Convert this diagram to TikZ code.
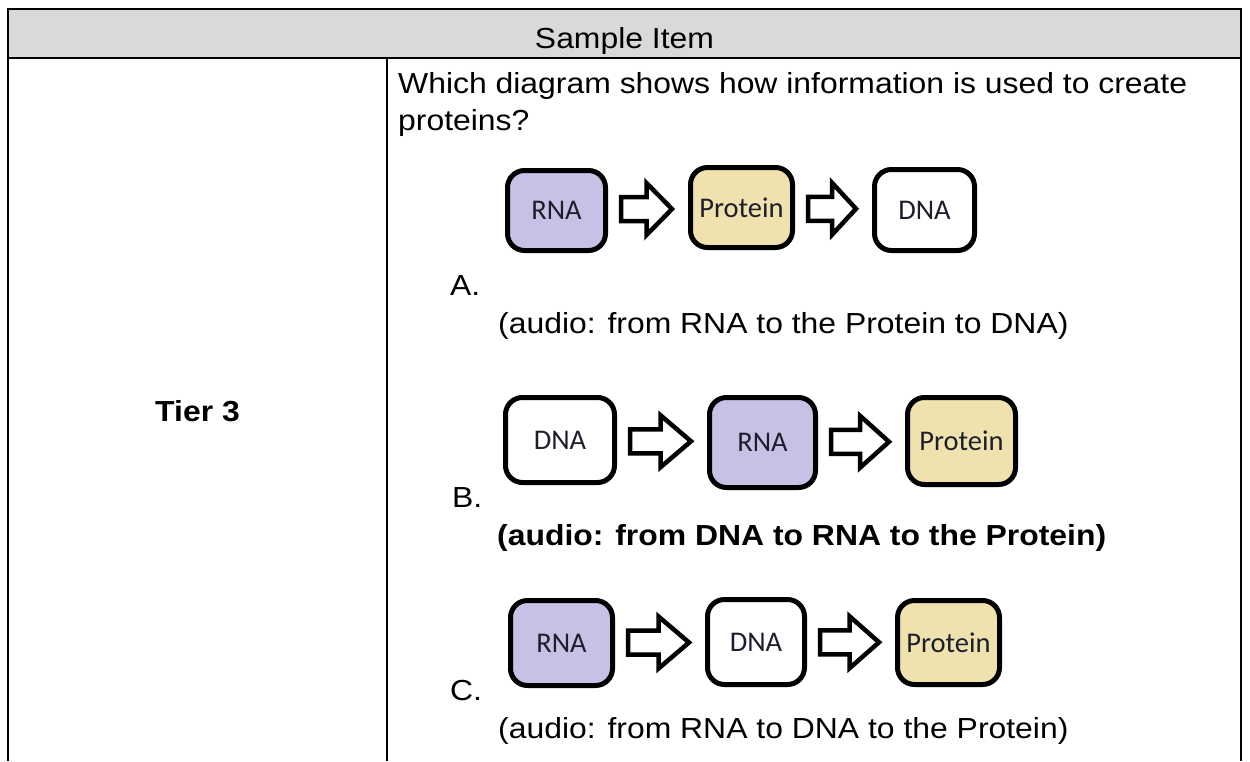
\documentclass[tikz,border=0pt]{standalone}
\usepackage{fontspec}
\setmainfont{Liberation Sans}[FakeStretch=1.1]
\newfontfamily\labelfont{Carlito}
\usetikzlibrary{calc}

\definecolor{headgray}{HTML}{D9D9D9}
\definecolor{rnafill}{HTML}{C8C0E5}
\definecolor{protfill}{HTML}{EFE2AE}
\definecolor{labelink}{HTML}{1E1E2A}

\tikzset{
  rule/.style={line width=2pt, draw=black},
  body/.style={font=\fontsize{29}{32}\selectfont, anchor=base west, inner sep=0pt},
  bodybold/.style={body, font=\fontsize{29}{32}\selectfont\bfseries},
  stepbox/.style={draw=black, line width=5pt, rounded corners=17pt,
    font=\labelfont\fontsize{28.5}{31}\selectfont, text=labelink, inner sep=0pt},
  rna/.style={stepbox, fill=rnafill},
  prot/.style={stepbox, fill=protfill},
  dna/.style={stepbox, fill=white},
  flow/.style={draw=black, fill=white, line width=4.5pt, line join=miter}
}

% hollow block arrow between two named boxes
\newcommand\flowarrow[2]{%
  \draw[flow] let \p1=(#1.east), \p2=(#2.west),
      \n1={\x1+13pt}, \n2={\x2-16pt}, \n3={(\y1+\y2)/2},
      \n4={\n1+0.5*(\n2-\n1)} in
    (\n1,\n3+12pt) -- (\n4,\n3+12pt) -- (\n4,\n3+26pt) -- (\n2,\n3)
    -- (\n4,\n3-26pt) -- (\n4,\n3-12pt) -- (\n1,\n3-12pt) -- cycle;}

\begin{document}
\begin{tikzpicture}[x=1pt,y=-1pt]
\useasboundingbox (0,0) rectangle (1250,761);
\fill[white] (0,0) rectangle (1250,761);

% table frame
\filldraw[rule, fill=headgray] (8,9) rectangle (1241,58);
\draw[rule] (8,58) -- (8,761);
\draw[rule] (387,58) -- (387,761);
\draw[rule] (1241,58) -- (1241,761);

\node[font=\fontsize{29}{32}\selectfont, anchor=base, inner sep=0pt] (head) at (624.5,48) {Sample Item};
\node[font=\fontsize{29}{32}\selectfont\bfseries, anchor=base, inner sep=0pt] (tier) at (197.5,421) {Tier 3};

% question
\node[body] (q1) at (398,93) {Which diagram shows how information is used to create};
\node[body] (q2) at (398,130) {proteins?};

% option A
\node[rna,  minimum width=98pt,  minimum height=80pt] (rnaA)  at (556.5,210.5) {RNA};
\node[prot, minimum width=102pt, minimum height=80pt] (protA) at (741.5,207.5) {Protein};
\node[dna,  minimum width=100pt, minimum height=81pt] (dnaA)  at (924.5,210) {DNA};
\flowarrow{rnaA}{protA}
\flowarrow{protA}{dnaA}
\node[body] (optA) at (450,295) {A.};
\node[body] (audA) at (498,333) {(audio: from RNA to the Protein to DNA)};

% option B
\node[dna,  minimum width=109pt, minimum height=85pt] (dnaB)  at (560,440) {DNA};
\node[rna,  minimum width=106pt, minimum height=90pt] (rnaB)  at (762.5,442.5) {RNA};
\node[prot, minimum width=108pt, minimum height=87pt] (protB) at (961.5,441) {Protein};
\flowarrow{dnaB}{rnaB}
\flowarrow{rnaB}{protB}
\node[body] (optB) at (452,507) {B.};
\node[bodybold] (audB) at (497,545) {(audio: from DNA to RNA to the Protein)};

% option C
\node[rna,  minimum width=102pt, minimum height=85pt] (rnaC)  at (561.5,643) {RNA};
\node[dna,  minimum width=97pt,  minimum height=85pt] (dnaC)  at (756,642) {DNA};
\node[prot, minimum width=102pt, minimum height=84pt] (protC) at (948.5,642.5) {Protein};
\flowarrow{rnaC}{dnaC}
\flowarrow{dnaC}{protC}
\node[body] (optC) at (450,700) {C.};
\node[body] (audC) at (498,738) {(audio: from RNA to DNA to the Protein)};
\end{tikzpicture}
\end{document}
